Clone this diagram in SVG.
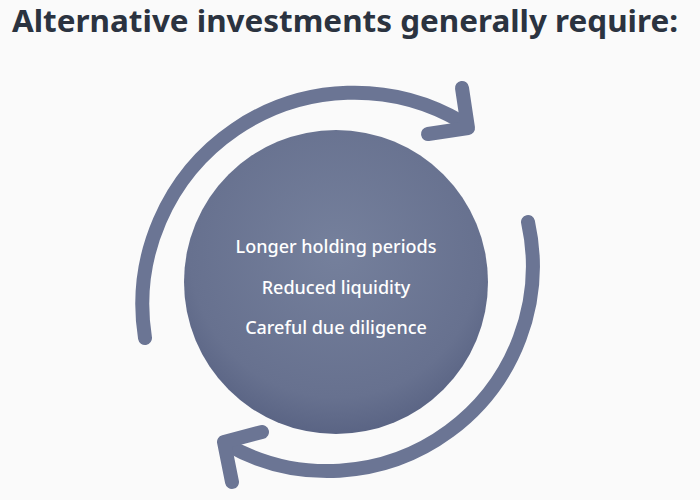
<svg xmlns="http://www.w3.org/2000/svg" width="700" height="500" viewBox="0 0 700 500">
<defs>
<radialGradient id="g" cx="0.5" cy="0.4" r="0.6">
<stop offset="0" stop-color="#75809c"/><stop offset="0.8" stop-color="#67718f"/><stop offset="1" stop-color="#5a6484"/>
</radialGradient>
<style>
.arc{fill:none;stroke:#6b7594;stroke-width:14;stroke-linecap:round;stroke-linejoin:round}
.t{font-family:"Noto Sans","Liberation Sans",sans-serif;fill:#fff;font-size:18px;font-weight:500;text-anchor:middle}
</style>
</defs>
<rect width="700" height="500" fill="#fafafa"/>
<text x="12" y="32" font-family="'Noto Sans','Liberation Sans',sans-serif" font-weight="700" font-size="30" fill="#2b3340" textLength="666" lengthAdjust="spacingAndGlyphs">Alternative investments generally require:</text>
<g id="connectors">
<path class="arc" d="M145,338 A212,212 0 0 1 462,122"/>
<polyline class="arc" points="462,88 468,128 428,134"/>
<path class="arc" d="M528,222 A205,205 0 0 1 226,444"/>
<polyline class="arc" points="262,432 224,442 232,482"/>
</g>
<g id="center">
<circle cx="336" cy="282" r="152" fill="url(#g)"/>
<text class="t" x="336" y="253">Longer holding periods</text>
<text class="t" x="336" y="294">Reduced liquidity</text>
<text class="t" x="336" y="334">Careful due diligence</text>
</g>
</svg>
